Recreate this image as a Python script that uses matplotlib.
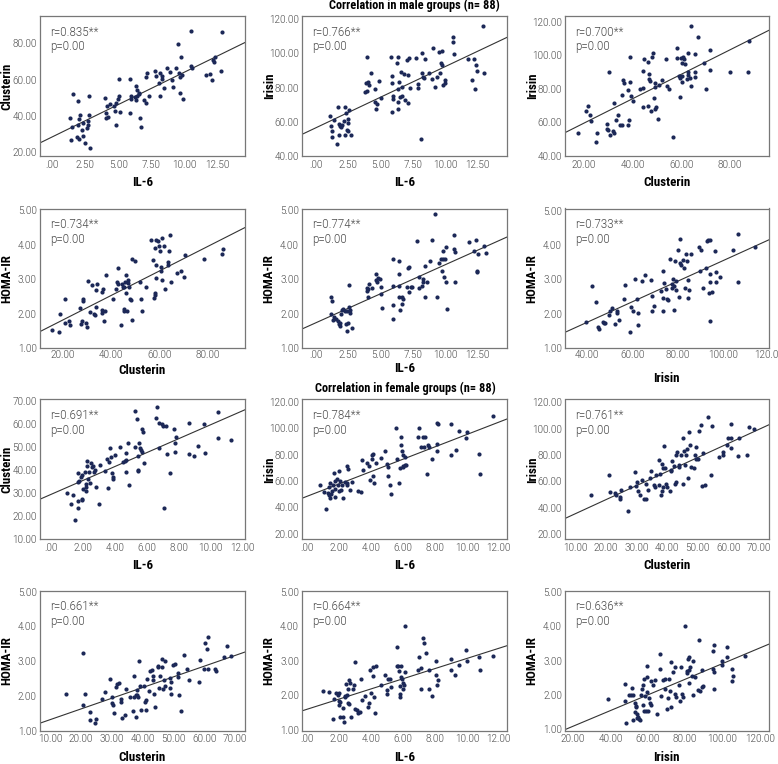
import numpy as np
import matplotlib
matplotlib.use("Agg")
import matplotlib.pyplot as plt
from matplotlib.ticker import FuncFormatter, MultipleLocator

# condensed bold for titles / axis labels, plain Roboto for numbers
plt.rcParams['font.family'] = ['Roboto Condensed', 'DejaVu Sans']
num_family = ['Roboto', 'DejaVu Sans']

# ---- male groups (n=88), points as (x, y) ----
male_il6_clusterin = [
    (1.33, 38.9), (1.46, 26.8), (1.58, 52.3), (1.48, 33.9), (1.94, 48.3), (1.96, 35.2), (2.06, 38.2),
    (2.14, 40.7), (1.86, 28.6), (2.04, 27.2), (2.36, 36.3), (2.31, 29.0), (2.46, 25.0), (2.69, 37.4),
    (2.77, 51.0), (2.69, 35.2), (2.62, 33.4), (2.77, 40.7), (2.84, 22.2), (4.00, 50.1), (4.05, 41.5),
    (4.15, 45.3), (4.10, 38.9), (4.20, 39.6), (4.35, 46.8), (4.65, 45.5), (4.73, 42.9), (4.80, 47.0),
    (4.85, 35.2), (5.00, 49.4), (5.06, 51.0), (5.08, 60.6), (5.16, 42.2), (5.91, 60.6), (5.88, 41.5),
    (5.96, 51.0), (5.99, 49.4), (6.29, 50.3), (6.36, 56.5), (6.34, 48.8), (6.41, 54.3), (6.46, 51.0),
    (6.54, 52.5), (6.61, 51.9), (6.66, 38.9), (6.69, 33.9), (6.94, 48.8), (7.09, 47.0), (7.14, 61.3),
    (7.21, 63.5), (7.32, 51.0), (7.82, 65.0), (7.84, 62.0), (8.12, 58.0), (8.15, 50.8), (8.17, 63.9),
    (8.32, 62.0), (8.35, 60.6), (8.43, 55.2), (8.68, 66.2), (8.90, 64.0), (9.05, 59.8), (9.15, 56.0),
    (9.36, 66.2), (9.56, 79.6), (9.58, 63.9), (9.66, 61.7), (9.73, 72.3), (9.71, 52.5), (9.81, 62.8),
    (9.93, 49.2), (10.51, 87.0), (10.54, 67.7), (10.61, 66.6), (11.62, 62.4), (11.97, 63.1),
    (12.12, 59.8), (12.15, 70.6), (12.22, 69.7), (12.32, 72.3), (12.75, 64.6), (12.85, 86.4),
    (2.23, 32.3),
]

male_il6_irisin = [
    (1.08, 63.3), (1.14, 57.4), (1.21, 51.2), (1.27, 54.5), (1.39, 60.9), (1.73, 68.4), (1.65, 47.0),
    (1.78, 58.6), (1.86, 57.4), (1.81, 52.1), (1.91, 57.0), (1.99, 58.4), (2.17, 60.4), (2.22, 52.5),
    (2.27, 68.4), (2.32, 65.2), (2.40, 55.1), (2.45, 61.5), (2.51, 59.4), (2.58, 66.8), (2.51, 54.5),
    (2.71, 52.5), (3.80, 77.6), (3.87, 82.5), (3.93, 98.1), (3.98, 78.2), (4.03, 83.4), (4.08, 81.7),
    (4.26, 88.7), (4.60, 78.9), (4.57, 71.5), (4.62, 67.6), (4.70, 70.1), (4.88, 83.6), (5.04, 74.1),
    (5.81, 97.7), (5.89, 86.6), (5.91, 82.5), (5.94, 75.0), (5.97, 73.3), (5.91, 65.6), (6.25, 94.4),
    (6.35, 97.7), (6.35, 78.9), (6.33, 71.7), (6.33, 67.4), (6.46, 83.4), (6.51, 74.2), (6.59, 88.9),
    (6.64, 80.5), (6.69, 75.0), (6.84, 87.9), (6.92, 72.7), (7.02, 96.2), (7.10, 70.7), (7.13, 87.5),
    (7.18, 97.1), (7.28, 79.7), (7.77, 97.5), (7.88, 82.1), (7.90, 79.7), (8.16, 50.2), (8.21, 100.1),
    (8.24, 88.7), (8.32, 86.4), (8.37, 85.4), (8.45, 96.8), (8.73, 88.7), (8.99, 85.2), (9.04, 103.0),
    (9.25, 80.1), (9.40, 86.0), (9.56, 100.5), (9.63, 88.7), (9.69, 94.4), (9.74, 101.6), (9.79, 93.2),
    (9.84, 81.5), (9.99, 84.4), (9.97, 82.9), (10.61, 109.5), (10.59, 106.9), (10.72, 99.5),
    (11.75, 96.8), (12.11, 84.4), (12.29, 78.9), (12.27, 96.8), (12.40, 93.2), (12.50, 89.9),
    (12.94, 116.1), (12.99, 88.3),
]

male_clusterin_irisin = [
    (17.5, 53.8), (20.7, 66.6), (21.4, 69.8), (22.6, 64.2), (23.0, 60.7), (24.7, 48.5), (25.2, 53.8),
    (29.5, 56.4), (29.6, 59.1), (29.9, 55.8), (30.2, 90.2), (30.6, 52.8), (31.8, 55.2), (32.1, 53.6),
    (32.4, 71.5), (33.3, 61.7), (34.0, 64.6), (34.8, 58.3), (35.4, 58.3), (35.4, 76.5), (35.9, 85.5),
    (36.3, 83.3), (38.1, 79.4), (38.3, 61.7), (38.1, 58.3), (38.8, 83.9), (38.9, 98.9), (39.5, 75.7),
    (40.0, 72.9), (42.9, 80.0), (44.3, 69.0), (44.4, 80.6), (44.4, 90.4), (44.7, 97.7), (46.1, 69.8),
    (46.4, 96.2), (46.6, 88.9), (46.9, 85.9), (47.2, 84.7), (47.4, 67.0), (48.0, 99.3), (48.3, 101.7),
    (48.8, 74.7), (49.1, 81.2), (49.1, 83.7), (49.2, 68.2), (49.7, 69.2), (50.5, 62.3), (50.8, 82.4),
    (51.9, 85.3), (53.6, 98.1), (54.2, 82.0), (54.9, 80.0), (56.4, 51.2), (58.2, 104.4), (58.3, 98.3),
    (59.0, 87.5), (59.3, 86.3), (59.5, 75.1), (59.9, 98.3), (60.1, 95.4), (60.4, 87.5), (60.5, 83.9),
    (60.8, 99.1), (61.2, 98.1), (61.7, 94.8), (62.3, 85.9), (62.6, 88.3), (62.6, 90.2), (62.8, 101.7),
    (63.4, 86.7), (63.9, 117.8), (64.2, 81.6), (65.6, 100.9), (65.6, 89.9), (65.6, 86.9), (66.7, 110.9),
    (69.2, 95.2), (70.3, 80.0), (72.0, 91.4), (72.0, 103.1), (79.9, 89.9), (87.6, 89.9), (87.8, 108.6),
]

male_clusterin_homa = [
    (15.4, 1.53), (18.3, 1.46), (19.0, 1.99), (20.7, 2.43), (20.8, 1.72), (22.4, 1.77), (22.8, 1.67),
    (27.2, 2.16), (27.5, 1.71), (27.8, 1.79), (28.2, 2.36), (28.3, 2.43), (29.7, 1.74), (30.0, 1.60),
    (30.3, 2.94), (31.1, 2.05), (32.2, 2.82), (33.1, 2.00), (33.3, 1.95), (33.9, 2.67), (33.9, 2.20),
    (34.3, 2.86), (36.1, 2.63), (36.3, 2.09), (36.4, 2.02), (36.9, 1.77), (36.7, 2.72), (37.5, 2.08),
    (38.1, 3.13), (40.8, 2.43), (42.2, 2.71), (42.5, 2.92), (42.8, 3.32), (42.9, 2.86), (44.0, 1.68),
    (44.7, 2.86), (45.0, 2.76), (45.3, 2.13), (45.4, 2.76), (45.6, 2.08), (45.7, 2.92), (46.4, 3.13),
    (46.4, 2.60), (46.8, 2.07), (47.1, 2.89), (47.2, 2.96), (47.5, 2.76), (48.1, 2.43), (48.5, 2.38),
    (48.6, 1.81), (48.8, 3.58), (50.1, 3.52), (51.9, 2.92), (52.6, 2.43), (53.1, 2.08), (54.7, 2.78),
    (56.5, 4.15), (57.6, 3.56), (57.8, 2.45), (58.1, 2.53), (58.3, 2.59), (58.5, 3.91), (58.8, 4.13),
    (58.8, 3.40), (58.9, 3.03), (59.7, 4.10), (60.0, 3.95), (60.3, 3.83), (60.7, 3.34), (60.8, 3.23),
    (61.0, 4.18), (61.1, 2.97), (62.1, 3.96), (62.5, 2.70), (63.6, 3.50), (63.8, 3.42), (64.2, 3.81),
    (64.7, 4.29), (65.0, 2.92), (67.6, 3.19), (68.9, 3.23), (70.4, 3.05), (70.7, 3.71), (78.5, 3.57),
    (86.0, 3.73), (86.5, 3.87),
]

male_il6_homa = [
    (1.14, 2.47), (1.21, 2.37), (1.19, 1.98), (1.34, 1.82), (1.39, 1.91), (1.55, 1.85), (1.73, 1.79),
    (1.81, 1.69), (1.83, 1.64), (1.86, 1.74), (1.96, 1.98), (2.01, 2.10), (2.12, 2.12), (2.27, 2.06),
    (2.32, 1.69), (2.38, 1.50), (2.43, 2.06), (2.48, 1.72), (2.53, 2.83), (2.58, 2.18), (2.63, 2.03),
    (2.66, 2.10), (2.79, 1.57), (3.93, 2.66), (3.95, 2.75), (4.00, 2.70), (4.11, 2.87), (4.05, 2.47),
    (4.31, 2.73), (4.62, 3.14), (4.67, 2.97), (4.75, 2.93), (4.78, 3.04), (4.96, 2.99), (5.01, 2.78),
    (5.06, 2.56), (5.14, 2.15), (5.94, 3.57), (5.97, 2.80), (5.94, 1.84), (5.99, 2.24), (6.40, 2.79),
    (6.46, 3.54), (6.46, 3.16), (6.46, 2.47), (6.51, 2.11), (6.64, 2.47), (6.69, 2.27), (6.77, 2.42),
    (7.02, 2.76), (7.13, 3.33), (7.21, 3.35), (7.23, 2.64), (7.33, 2.77), (7.41, 2.77), (7.85, 4.12),
    (7.95, 3.06), (7.98, 2.73), (8.21, 2.80), (8.26, 2.99), (8.32, 2.93), (8.42, 3.39), (8.45, 2.48),
    (8.57, 2.91), (8.83, 3.53), (9.01, 4.13), (9.22, 4.89), (9.35, 2.47), (9.50, 3.48), (9.69, 3.58),
    (9.74, 3.24), (9.81, 3.58), (9.84, 3.83), (9.89, 3.06), (10.02, 3.58), (10.05, 2.92), (10.10, 3.94),
    (10.12, 2.14), (10.67, 4.28), (10.69, 3.86), (10.77, 3.79), (10.74, 2.93), (11.88, 4.08),
    (12.24, 3.83), (12.40, 4.13), (12.47, 3.24), (12.50, 3.20), (12.58, 3.72), (13.04, 3.96),
    (13.15, 3.75),
]

male_irisin_homa = [
    (39.3, 1.77), (42.0, 2.79), (43.7, 2.35), (44.8, 1.60), (45.0, 1.54), (46.9, 1.77), (47.3, 1.72),
    (47.9, 1.73), (49.5, 1.97), (50.0, 2.07), (50.8, 2.16), (52.0, 1.70), (52.9, 2.01), (53.0, 2.07),
    (54.1, 1.81), (56.1, 2.43), (56.4, 2.82), (59.0, 1.46), (59.3, 2.20), (60.1, 2.07), (61.1, 3.01),
    (61.7, 2.43), (62.3, 2.01), (62.3, 1.68), (64.2, 2.94), (65.6, 3.13), (68.1, 2.99), (68.3, 2.52),
    (68.7, 2.08), (69.4, 2.23), (72.5, 2.65), (73.2, 2.45), (73.2, 2.08), (73.5, 3.25), (74.0, 2.88),
    (74.7, 2.72), (75.1, 2.43), (75.6, 2.39), (76.3, 3.60), (77.2, 2.86), (77.3, 2.76), (77.6, 3.00),
    (78.1, 2.79), (78.4, 2.10), (78.7, 3.54), (79.0, 2.69), (79.2, 2.96), (79.8, 3.85), (80.4, 2.47),
    (80.7, 4.18), (81.0, 3.48), (81.3, 3.42), (82.2, 3.57), (82.6, 3.34), (83.0, 2.74), (83.5, 3.73),
    (83.8, 3.54), (84.2, 2.98), (84.5, 2.45), (84.7, 2.69), (85.7, 3.73), (89.3, 3.95), (89.5, 3.23),
    (90.1, 3.86), (90.8, 2.76), (92.4, 3.34), (93.0, 4.12), (93.4, 4.14), (93.7, 2.61), (93.9, 4.14),
    (93.9, 2.92), (94.0, 3.15), (94.0, 1.79), (94.8, 2.62), (96.1, 3.81), (96.7, 2.92), (96.8, 3.21),
    (98.4, 3.07), (104.1, 3.86), (106.6, 4.31), (106.6, 2.92), (113.9, 3.95),
]

# ---- female groups (n=88) ----
female_il6_clusterin = [
    (0.99, 29.9), (1.22, 25.4), (1.36, 29.3), (1.49, 18.3), (1.66, 38.9), (1.70, 34.8), (1.70, 23.8),
    (1.66, 26.7), (1.74, 35.1), (1.89, 37.2), (1.93, 38.0), (1.95, 27.4), (1.95, 26.9), (1.99, 31.9),
    (2.10, 39.2), (2.16, 34.0), (2.18, 32.5), (2.22, 31.1), (2.24, 41.8), (2.27, 43.9), (2.31, 36.3),
    (2.37, 39.2), (2.41, 34.4), (2.52, 43.0), (2.56, 41.2), (2.62, 42.0), (2.66, 39.2), (2.75, 40.2),
    (2.83, 32.5), (3.00, 25.5), (3.08, 42.4), (3.40, 39.8), (3.50, 45.0), (3.59, 32.2), (3.63, 43.6),
    (3.69, 49.7), (3.78, 45.6), (3.80, 38.6), (3.88, 37.2), (3.88, 36.0), (3.99, 46.8), (4.30, 50.2),
    (4.49, 43.6), (4.62, 43.9), (4.68, 47.6), (4.68, 39.2), (4.72, 44.6), (4.82, 51.6), (4.89, 33.4),
    (5.24, 65.9), (5.29, 50.2), (5.39, 62.4), (5.45, 40.1), (5.48, 39.5), (5.48, 46.3), (5.52, 51.7),
    (5.58, 49.7), (5.62, 48.8), (5.69, 57.8), (5.73, 47.9), (5.77, 56.6), (5.83, 43.3), (6.57, 62.7),
    (6.65, 67.4), (6.76, 49.7), (6.78, 60.4), (6.96, 60.1), (7.00, 59.3), (7.09, 23.8), (7.24, 59.0),
    (7.28, 47.0), (7.49, 38.9), (7.74, 58.1), (7.78, 51.6), (7.78, 47.9), (7.82, 54.6), (8.64, 60.4),
    (8.66, 47.2), (8.96, 46.3), (9.19, 50.4), (9.61, 60.1), (9.65, 47.6), (10.45, 65.1), (10.47, 54.0),
    (11.26, 53.3),
]

female_il6_irisin = [
    (0.79, 57.0), (1.05, 51.6), (1.17, 38.5), (1.28, 50.6), (1.36, 49.1), (1.38, 55.4), (1.42, 47.1),
    (1.44, 58.7), (1.46, 49.9), (1.51, 52.7), (1.63, 56.7), (1.67, 66.3), (1.72, 59.7), (1.74, 54.2),
    (1.76, 47.6), (1.88, 61.8), (1.92, 56.7), (1.97, 52.7), (2.01, 67.8), (2.05, 60.0), (2.09, 52.9),
    (2.15, 56.7), (2.20, 47.1), (2.38, 59.2), (2.47, 56.7), (2.51, 58.7), (2.51, 71.1), (2.53, 69.4),
    (2.68, 53.2), (2.80, 59.2), (3.16, 52.7), (3.39, 51.6), (3.45, 75.9), (3.47, 68.1), (3.72, 73.9),
    (3.85, 71.4), (3.93, 60.5), (4.04, 80.0), (4.06, 76.7), (4.10, 80.8), (4.14, 63.8), (4.20, 58.5),
    (4.27, 73.7), (4.62, 77.5), (4.85, 82.8), (5.02, 72.9), (5.06, 70.9), (5.08, 63.8), (5.19, 57.2),
    (5.25, 50.4), (5.58, 100.5), (5.64, 76.5), (5.77, 58.7), (5.81, 69.9), (5.87, 93.4), (5.87, 87.1),
    (5.92, 82.8), (5.98, 80.0), (5.98, 70.4), (6.02, 71.1), (6.10, 71.9), (6.15, 78.5), (6.19, 72.4),
    (7.00, 100.5), (6.92, 93.4), (7.13, 85.8), (7.23, 93.4), (7.32, 85.8), (7.38, 93.4), (7.48, 65.6),
    (7.59, 87.1), (7.65, 85.6), (7.84, 77.0), (8.11, 88.4), (8.13, 103.8), (8.15, 82.5), (8.22, 103.0),
    (8.99, 103.0), (9.03, 80.0), (9.30, 83.8), (9.53, 98.0), (9.93, 92.9), (10.04, 97.2), (10.79, 80.3),
    (10.83, 65.3), (11.62, 109.1),
]

female_clusterin_irisin = [
    (15.2, 50.0), (21.0, 64.6), (21.3, 52.0), (23.1, 51.5), (23.2, 50.0), (24.6, 47.0), (24.6, 48.0),
    (25.0, 53.5), (27.2, 37.4), (27.9, 56.0), (29.5, 67.1), (29.7, 56.5), (30.3, 59.3), (30.6, 52.5),
    (31.2, 50.0), (31.8, 60.8), (32.5, 47.0), (33.0, 46.4), (33.1, 58.3), (33.7, 53.2), (34.4, 62.6),
    (34.9, 67.6), (35.7, 57.5), (36.0, 55.5), (36.4, 65.1), (37.3, 57.5), (37.5, 76.4), (37.8, 65.3),
    (38.0, 49.5), (38.2, 52.5), (38.4, 73.4), (38.6, 70.1), (38.6, 55.8), (39.0, 86.8), (39.2, 70.1),
    (39.6, 58.3), (40.1, 55.8), (40.9, 52.5), (41.2, 67.6), (41.4, 68.9), (41.7, 75.7), (42.2, 71.4),
    (42.5, 57.8), (42.9, 59.5), (43.0, 79.7), (43.4, 82.2), (43.8, 72.7), (44.0, 70.9), (44.7, 80.2),
    (45.1, 57.8), (45.2, 92.8), (45.6, 82.7), (46.0, 72.1), (46.2, 79.7), (46.5, 84.7), (46.9, 62.6),
    (47.1, 97.3), (47.5, 87.8), (47.9, 70.9), (48.7, 70.1), (49.0, 80.2), (49.3, 85.7), (49.6, 76.7),
    (50.1, 76.7), (50.4, 97.8), (51.0, 102.9), (51.4, 56.5), (51.9, 81.7), (52.3, 57.0), (53.4, 108.9),
    (54.3, 64.6), (54.8, 102.1), (57.1, 78.2), (58.2, 79.7), (58.4, 82.2), (59.5, 87.3), (59.9, 92.8),
    (60.8, 85.2), (61.0, 92.8), (60.9, 103.1), (63.2, 78.9), (63.4, 93.0), (66.3, 80.2), (66.9, 100.9),
    (68.5, 99.8),
]

female_clusterin_homa = [
    (15.0, 2.05), (20.6, 3.24), (20.7, 1.73), (21.3, 2.05), (22.8, 1.55), (22.8, 1.31), (24.4, 1.23),
    (25.0, 1.35), (26.9, 1.91), (27.8, 2.10), (29.3, 2.48), (30.0, 1.98), (30.1, 1.79), (30.4, 1.75),
    (30.7, 1.50), (31.3, 2.26), (31.5, 2.33), (32.3, 2.36), (32.8, 1.84), (33.0, 1.90), (33.4, 1.37),
    (34.3, 1.46), (34.7, 2.21), (35.8, 1.98), (36.7, 1.58), (37.3, 2.57), (37.3, 1.98), (37.8, 1.38),
    (37.8, 2.03), (38.0, 2.17), (38.3, 2.02), (38.5, 1.96), (38.9, 3.00), (39.1, 2.29), (39.4, 1.59),
    (40.4, 2.29), (40.9, 1.82), (41.0, 1.88), (41.2, 1.59), (41.5, 2.50), (42.0, 2.15), (42.3, 2.73),
    (42.9, 2.75), (43.2, 2.46), (43.4, 2.58), (43.8, 2.06), (44.1, 1.69), (44.9, 2.82), (45.1, 2.86),
    (45.4, 2.22), (45.6, 2.58), (46.2, 2.84), (46.4, 3.07), (46.7, 2.19), (47.0, 2.46), (47.2, 3.01),
    (47.3, 2.30), (48.8, 2.52), (49.0, 2.22), (49.3, 2.07), (49.3, 2.40), (49.9, 2.88), (50.5, 2.91),
    (51.5, 2.55), (51.6, 2.65), (51.9, 2.03), (52.5, 1.57), (53.5, 3.17), (54.3, 2.78), (55.1, 2.46),
    (58.4, 2.41), (58.7, 3.03), (59.8, 2.78), (60.1, 3.53), (61.0, 3.34), (61.2, 2.78), (61.2, 3.69),
    (63.6, 2.77), (63.8, 2.72), (66.5, 3.13), (67.3, 3.44), (68.7, 3.15),
]

female_il6_homa = [
    (0.96, 2.13), (1.34, 2.09), (1.59, 1.33), (1.67, 1.90), (1.80, 2.06), (1.92, 2.02), (1.97, 1.85),
    (1.99, 1.71), (2.01, 2.06), (2.07, 1.39), (2.07, 1.81), (2.22, 1.63), (2.26, 1.37), (2.30, 1.24),
    (2.34, 1.96), (2.38, 1.99), (2.43, 2.33), (2.49, 2.01), (2.53, 1.77), (2.55, 2.20), (2.59, 2.45),
    (2.61, 1.75), (2.68, 2.37), (2.72, 1.37), (2.84, 2.18), (2.89, 2.30), (2.99, 2.98), (3.01, 1.61),
    (3.09, 1.58), (3.20, 1.50), (3.30, 1.53), (3.39, 2.47), (3.43, 1.87), (3.64, 1.98), (3.81, 1.67),
    (3.89, 1.77), (3.93, 2.73), (4.01, 2.06), (4.10, 2.81), (4.14, 2.56), (4.18, 1.96), (4.24, 1.50),
    (4.31, 2.85), (4.62, 2.31), (4.85, 2.58), (4.98, 2.16), (5.02, 2.04), (5.06, 2.47), (5.19, 2.49),
    (5.25, 2.23), (5.60, 3.41), (5.60, 2.86), (5.71, 2.86), (5.75, 2.72), (5.79, 1.96), (5.81, 2.04),
    (5.83, 2.27), (5.85, 2.86), (5.90, 2.52), (5.94, 2.47), (5.98, 2.37), (6.02, 2.20), (6.06, 2.31),
    (6.10, 2.67), (6.15, 4.02), (6.94, 2.73), (7.02, 3.10), (7.11, 2.78), (7.15, 2.18), (7.28, 3.65),
    (7.32, 3.51), (7.44, 3.22), (7.61, 2.75), (7.65, 2.18), (7.82, 1.98), (8.07, 3.00), (8.09, 2.58),
    (8.11, 2.29), (8.22, 2.45), (8.99, 2.75), (9.03, 3.05), (9.28, 2.58), (9.53, 2.87), (9.95, 3.31),
    (10.01, 3.00), (10.79, 3.10), (10.83, 2.75), (11.62, 3.14),
]

female_irisin_homa = [
    (38.8, 1.87), (47.7, 1.82), (48.0, 2.32), (48.4, 1.19), (50.0, 2.00), (50.9, 2.00), (51.6, 2.20),
    (52.0, 2.00), (52.3, 1.27), (53.0, 1.51), (53.4, 1.76), (53.75, 1.68), (53.9, 1.64), (54.1, 1.46),
    (54.3, 1.33), (54.8, 1.37), (55.2, 1.31), (55.9, 1.27), (56.6, 1.99), (57.0, 2.18), (57.3, 2.28),
    (57.7, 1.70), (58.0, 2.46), (58.2, 1.54), (58.75, 1.97), (59.1, 1.52), (59.5, 2.08), (59.6, 2.53),
    (59.8, 2.84), (60.2, 1.54), (60.5, 1.90), (61.1, 1.76), (61.6, 2.41), (62.0, 1.70), (62.7, 2.28),
    (64.1, 2.43), (65.2, 1.44), (66.4, 3.19), (66.4, 2.74), (67.3, 1.97), (68.4, 2.43), (69.1, 2.47),
    (69.5, 2.18), (70.5, 1.60), (70.9, 1.91), (71.4, 2.47), (72.0, 2.12), (72.7, 2.96), (72.7, 1.66),
    (73.75, 2.67), (74.5, 2.03), (74.8, 2.80), (75.2, 1.95), (77.0, 2.30), (77.5, 1.83), (78.0, 2.82),
    (78.4, 2.03), (78.75, 1.95), (80.2, 4.00), (80.9, 2.65), (81.25, 2.70), (81.6, 3.05), (82.0, 3.09),
    (82.3, 2.72), (82.5, 2.80), (82.3, 2.36), (83.75, 2.55), (84.1, 3.00), (84.5, 1.99), (85.2, 2.53),
    (87.1, 2.14), (87.5, 3.61), (88.0, 2.12), (89.1, 2.24), (89.3, 2.72), (89.8, 2.26), (95.0, 3.29),
    (95.2, 2.74), (95.4, 3.46), (95.5, 2.67), (95.4, 2.16), (99.8, 2.86), (100.0, 2.98), (102.3, 3.09),
    (102.7, 3.38), (105.0, 2.41), (105.4, 2.74), (105.7, 2.55), (112.0, 3.13),
]

r_texts = ["0.835", "0.766", "0.700", "0.734", "0.774", "0.733",
           "0.691", "0.784", "0.761", "0.661", "0.664", "0.636"]

# (data, xlabel, ylabel, xlim, ylim, xstep, ystep)
panels = [
    (male_il6_clusterin, "IL-6", "Clusterin", (-0.96, 14.6), (18.0, 95.0), 2.5, 20),
    (male_il6_irisin, "IL-6", "Irisin", (-1.1, 14.77), (40, 121.8), 2.5, 20),
    (male_clusterin_irisin, "Clusterin", "Irisin", (12, 96), (40, 123.5), 20, 20),
    (male_clusterin_homa, "Clusterin", "HOMA-IR", (10.3, 95.7), (1, 5.05), 20, 1),
    (male_il6_homa, "IL-6", "HOMA-IR", (-1.1, 14.77), (1, 5.05), 2.5, 1),
    (male_irisin_homa, "Irisin", "HOMA-IR", (30, 120), (1, 5.06), 20, 1),
    (female_il6_clusterin, "IL-6", "Clusterin", (-0.73, 12.17), (10, 70.7), 2, 10),
    (female_il6_irisin, "IL-6", "Irisin", (-0.36, 12.5), (15.7, 122), 2, 20),
    (female_clusterin_irisin, "Clusterin", "Irisin", (6.5, 73.25), (16.2, 122), 10, 20),
    (female_clusterin_homa, "Clusterin", "HOMA-IR", (6.5, 73.2), (1, 5.03), 10, 1),
    (female_il6_homa, "IL-6", "HOMA-IR", (-0.36, 12.5), (0.98, 5.03), 2, 1),
    (female_irisin_homa, "Irisin", "HOMA-IR", (15.5, 124.8), (0.96, 5.03), 20, 1),
]

W, H = 778, 764
col_left = [39.5, 301.7, 564.7]
col_w = [205.5, 205, 204]
row_top = [16, 208.5, 399.5, 590.7]
row_h = [140, 139.5, 139.8, 140]
xlab_off = [[27, 27, 27], [22, 20, 30], [26, 26, 26], [27, 27, 27]]
xtick_pad = [2.6, 1.2, 2.6, 2.6]

dot_color = "#1c2857"
tick_fmt = FuncFormatter(lambda v, p: f"{v:.2f}".lstrip("0") if abs(v) < 0.5 else f"{v:.2f}")

fig = plt.figure(figsize=(W / 100, H / 100), dpi=100)

for i, (pts, xl, yl, xlim, ylim, xstep, ystep) in enumerate(panels):
    r, c = divmod(i, 3)
    left, w, top, h = col_left[c], col_w[c], row_top[r], row_h[r]
    ax = fig.add_axes([left / W, 1 - (top + h) / H, w / W, h / H])
    x = np.array([p[0] for p in pts])
    y = np.array([p[1] for p in pts])
    ax.scatter(x, y, s=9, color=dot_color, linewidths=0, zorder=3)
    slope, icpt = np.polyfit(x, y, 1)
    xs = np.array(xlim)
    ax.plot(xs, icpt + slope * xs, color="#333333", lw=0.8, zorder=2)
    ax.set_xlim(xlim)
    ax.set_ylim(ylim)
    ax.xaxis.set_major_locator(MultipleLocator(xstep))
    ax.yaxis.set_major_locator(MultipleLocator(ystep))
    ax.xaxis.set_major_formatter(tick_fmt)
    ax.yaxis.set_major_formatter(tick_fmt)
    ax.tick_params(length=0, labelsize=7.1, labelcolor="#4a4a4a")
    ax.tick_params(axis="x", pad=xtick_pad[r])
    ax.tick_params(axis="y", pad=2)
    for lab in ax.get_xticklabels() + ax.get_yticklabels():
        lab.set_family(num_family)
        lab.set_fontweight(300)
    for s in ax.spines.values():
        s.set_color("#777777")
        s.set_linewidth(0.9)
    ax.set_xlabel(xl, fontsize=9.4, fontweight="bold", va="center")
    ax.xaxis.set_label_coords(0.5, -xlab_off[r][c] / h)
    ax.set_ylabel(yl, fontsize=9.4, fontweight="bold")
    ax.yaxis.set_label_coords(-26 / w, 0.5)
    ax.text(0.05, 0.885, f"r={r_texts[i]}**", transform=ax.transAxes, family=num_family,
            fontweight=300, fontsize=8.3, color="#4a4a4a", va="center", ha="left")
    ax.text(0.05, 0.78, "p=0.00", transform=ax.transAxes, family=num_family,
            fontweight=300, fontsize=8.3, color="#4a4a4a", va="center", ha="left")

fig.text(414 / W, 1 - 5.5 / H, "Correlation in male groups (n= 88)",
         fontsize=8.9, fontweight="bold", ha="center", va="center")
fig.text(405 / W, 1 - 388 / H, "Correlation in female groups (n= 88)",
         fontsize=8.9, fontweight="bold", ha="center", va="center")

fig.savefig("out.png", dpi=100)
